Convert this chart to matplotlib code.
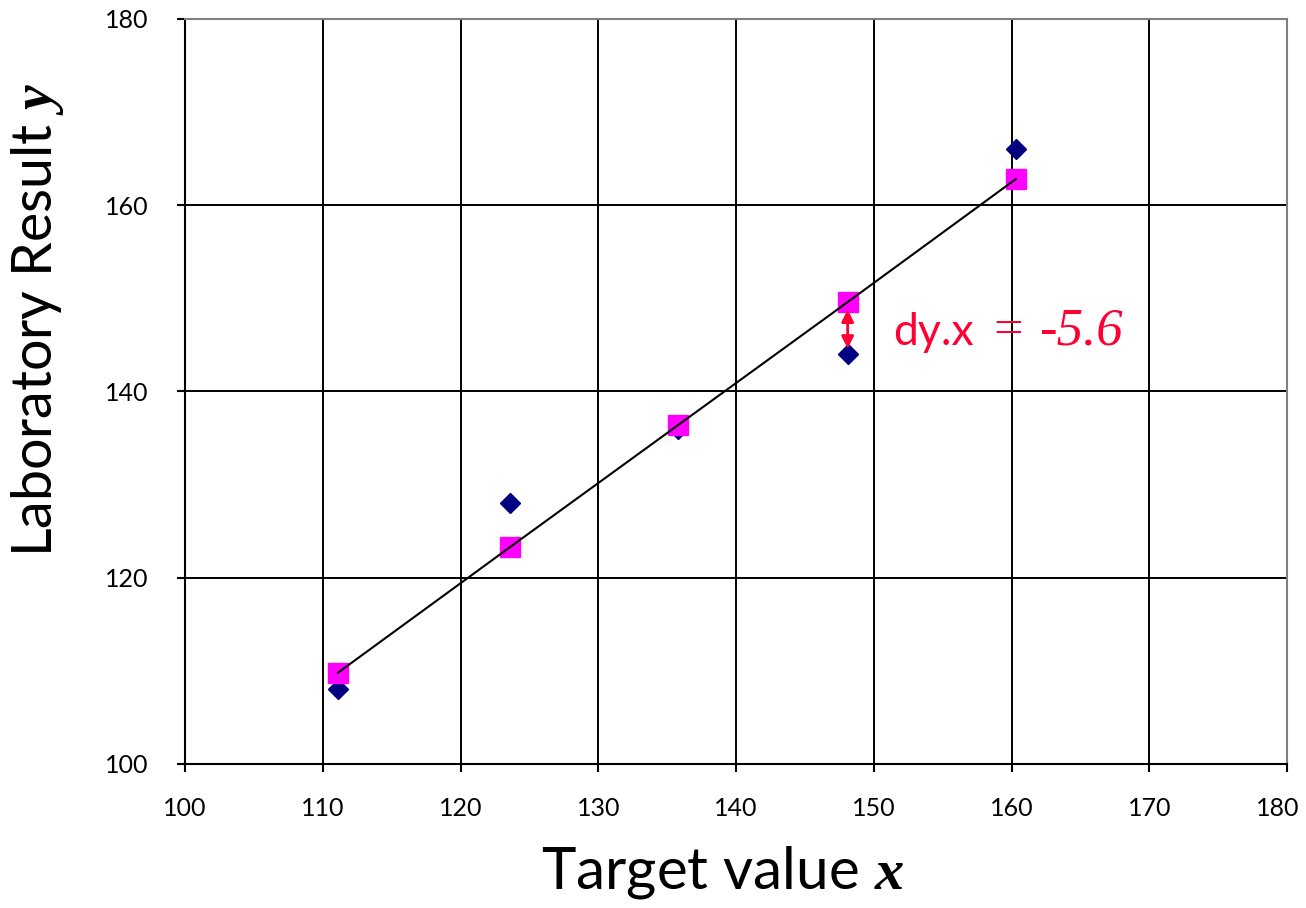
import numpy as np
import matplotlib
matplotlib.use("Agg")
import matplotlib.pyplot as plt
from matplotlib.transforms import ScaledTranslation

target_x = [111.1, 123.6, 135.8, 148.1, 160.3]
lab_y = [108.0, 128.0, 136.0, 144.0, 166.0]
fit_y = [109.8, 123.3, 136.4, 149.6, 162.8]
dy_label = "-5.6"
dy_index = 3

plt.rcParams["font.family"] = ["Lato", "DejaVu Sans"]
plt.rcParams["mathtext.fontset"] = "custom"
plt.rcParams["mathtext.rm"] = "Lato"
plt.rcParams["mathtext.bfit"] = "Liberation Serif:italic:bold"
plt.rcParams["mathtext.it"] = "Liberation Serif:italic"

fig = plt.figure(figsize=(13.06, 9.08), dpi=100)
ax = fig.add_axes([0.1417, 0.1586, 0.8438, 0.8205])

ax.plot(target_x, lab_y, linestyle="none", marker="D", ms=10.5,
        color="#000080", zorder=3)
ax.plot(target_x, fit_y, linestyle="none", marker="s", ms=14,
        color="#FF00FF", zorder=4)
ax.plot(target_x, fit_y, color="black", lw=1.5, zorder=5)

# residual arrow
ax.annotate("", xy=(target_x[dy_index], lab_y[dy_index] + 0.6),
            xytext=(target_x[dy_index], fit_y[dy_index] - 0.8),
            arrowprops=dict(arrowstyle="<|-|>", color="#FF0033", lw=2,
                            mutation_scale=18, shrinkA=0, shrinkB=0),
            zorder=6)
ax.text(151.4, 145.0, "dy.x", color="#FF0033", fontsize=32,
        ha="left", va="baseline")
ax.text(158.7, 145.0, "=", color="#FF0033", fontsize=38,
        family="Liberation Serif", ha="left", va="baseline")
ax.text(162.0, 145.0, dy_label, color="#FF0033", fontsize=38,
        family="Liberation Serif", style="italic", ha="left", va="baseline")

ax.set_xlim(100, 180)
ax.set_ylim(100, 180)
ax.set_xticks(np.arange(100, 181, 10))
ax.set_yticks(np.arange(100, 181, 20))
ax.grid(True, color="black", lw=1.4)
ax.set_axisbelow(True)
for s in ["top", "right"]:
    ax.spines[s].set_color("#808080")
    ax.spines[s].set_linewidth(1.5)
for s in ["left", "bottom"]:
    ax.spines[s].set_color("black")
    ax.spines[s].set_linewidth(1.5)
ax.tick_params(axis="both", direction="out", length=6, width=1.5,
               labelsize=18)
ax.tick_params(axis="x", pad=18)
ax.tick_params(axis="y", pad=20)

# nudge the last x label inward so it fits (like the original)
last = ax.xaxis.get_major_ticks()[-1].label1
last.set_transform(last.get_transform() + ScaledTranslation(-9 / 100, 0, fig.dpi_scale_trans))

fig.text(0.553, 0.008, r"Target value $\mathbfit{x}$", fontsize=42,
         ha="center", va="bottom")
fig.text(0.029, 0.648, r"Laboratory Result $\mathbfit{y}$", fontsize=40,
         rotation=90, ha="center", va="center")

fig.savefig("out.png", dpi=100)
plt.close(fig)
